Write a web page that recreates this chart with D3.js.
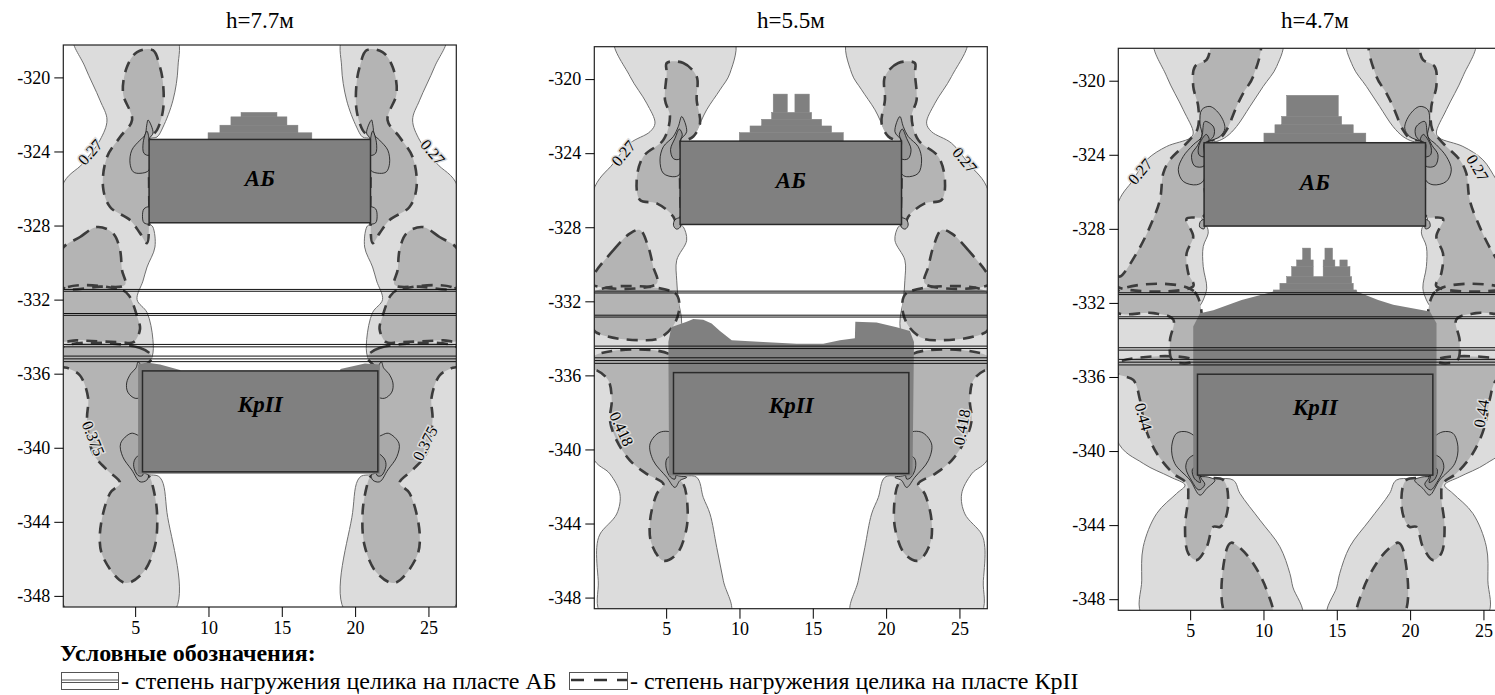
<!DOCTYPE html>
<html>
<head>
<meta charset="utf-8">
<script src="https://cdn.jsdelivr.net/npm/d3@7"></script>
<style>
body { margin: 0; background: #fff; }
svg { display: block; }
text { font-family: "Liberation Serif", "Times New Roman", serif; }
</style>
</head>
<body>
<svg id="chart" width="1495" height="695"></svg>
<script>
// ---- data (x = distance, y = depth) ----
const xTicks = [5, 10, 15, 20, 25];
const yTicks = [-320, -324, -328, -332, -336, -340, -344, -348];
const titles = ["h=7.7м", "h=5.5м", "h=4.7м"];
const xDomain = [0.1, 26.9];
const yDomain = [-318.25, -348.6];
const axisSum = 27; // left + right edge, shapes are given for the left half
const abRect = [5.95, 21.05, -323.35, -327.85];
const krRect = [5.5, 21.55, -335.85, -341.3];
const seamLines = [-331.45, -331.55, -332.75, -332.85, -334.42, -334.55, -335.05, -335.2, -335.35];

// panel 1, h=7.7
const light1 = [[0.83,-317.8],[1.58,-319.43],[2.6,-321.23],[3.08,-322.3],[2.6,-323.39],[1.45,-324.63],[0,-325.9],[0,-341.0],[0.5,-348.9],[7.6,-348.9],[7.17,-343.5],[6.69,-341.6],[5.5,-341.3],[5.5,-335.85],[6.15,-335.1],[6.21,-334.15],[5.81,-332.7],[5.13,-332.0],[5.53,-331.0],[5.81,-330.24],[6.35,-329.16],[6.21,-328.08],[5.95,-327.85],[5.95,-323.35],[6.49,-323.22],[6.9,-322.68],[7.58,-321.23],[7.92,-319.43],[7.75,-317.8]];
const mid1 = [
  [[5.13,-318.63],[6.21,-318.53],[6.69,-319.44],[6.9,-320.31],[6.9,-321.77],[6.49,-322.84],[5.95,-323.35],[5.95,-325.6],[5.95,-327.85],[5.81,-328.95],[5.33,-328.41],[4.65,-327.7],[3.29,-327.0],[2.81,-325.92],[3.08,-324.3],[3.97,-323.22],[4.79,-322.3],[4.17,-320.85],[4.44,-319.44]],
  [[0,-329.3],[1.24,-328.62],[2.4,-328.08],[3.49,-328.41],[3.97,-329.33],[4.1,-330.4],[4.31,-331.2],[2.6,-331.3],[0,-331.3]],
  [[0,-331.5],[4.17,-331.5],[4.6,-331.8],[5.13,-332.9],[5.33,-333.6],[4.88,-334.3],[4.0,-334.3],[1.0,-334.2],[0,-334.2]],
  [[0,-334.6],[5.3,-334.6],[6.15,-335.1],[5.5,-335.85],[5.5,-338.5],[5.5,-341.3],[6.0,-341.6],[6.21,-342.1],[6.49,-343.5],[6.35,-345.3],[5.53,-346.75],[4.31,-347.3],[2.81,-345.9],[2.6,-344.6],[3.29,-342.45],[3.97,-341.9],[3.08,-341.2],[2.13,-340.3],[1.72,-338.5],[1.79,-337.3],[1.24,-336.1],[0.42,-335.7],[0,-335.6]]
];
const lobes1 = [
  {lv: 1, pts: [[5.88,-322.3],[6.22,-323.0],[5.95,-323.35],[5.95,-325.0],[5.33,-325.18],[4.87,-325.1],[4.65,-324.64],[4.77,-323.93],[5.33,-323.39],[5.67,-323.12],[5.79,-322.58]]},
  {lv: 2, pts: [[5.8,-322.9],[5.95,-323.35],[5.95,-324.2],[5.6,-324.1],[5.55,-323.5]]},
  {lv: 1, pts: [[5.95,-327.0],[5.6,-327.1],[5.5,-327.5],[5.6,-327.85],[5.95,-327.9]]},
  {lv: 1, pts: [[5.21,-335.36],[5.5,-335.85],[5.5,-337.2],[5.0,-337.33],[4.5,-337.0],[4.42,-336.5],[4.7,-336.0],[5.05,-335.7]]},
  {lv: 1, pts: [[5.5,-339.5],[5.15,-339.31],[4.72,-339.22],[4.01,-339.76],[4.15,-340.48],[4.77,-341.2],[5.33,-341.84],[5.79,-341.75],[5.9,-341.47],[5.5,-341.3]]},
  {lv: 2, pts: [[5.5,-340.3],[5.0,-340.6],[4.9,-341.0],[5.2,-341.5],[5.5,-341.5]]}
];
const dark1 = [[5.2,-335.5],[5.8,-335.4],[6.7,-335.5],[8.06,-335.8],[8.1,-335.85],[18.96,-335.85],[19.0,-335.75],[20.67,-335.45],[21.69,-335.5],[21.69,-341.4],[5.2,-341.4]];
const bumps1 = [[12.22,14.67,-321.89,-322.13],[11.53,15.35,-322.13,-322.58],[10.78,16.1,-322.58,-322.99],[9.97,17.05,-322.99,-323.35]];
const labels1 = [["0.27",1.92,-324.03,-49],["0.27",25.3,-324.03,49],["0.375",2.15,-339.49,68],["0.375",24.76,-339.76,-63]];

// panel 2, h=5.5
const light2 = [[1.51,-317.8],[2.54,-319.86],[3.67,-321.3],[4.24,-322.38],[3.9,-322.84],[2.54,-323.46],[1.4,-324.55],[0,-326.1],[0,-340.42],[1.17,-341.32],[1.85,-342.4],[1.63,-343.48],[0.49,-344.57],[0.27,-345.29],[0.37,-347.09],[0.61,-348.9],[9.35,-348.9],[8.9,-347.09],[8.45,-345.29],[7.99,-343.48],[7.53,-342.59],[7.08,-341.5],[5.5,-341.3],[5.5,-335.85],[6.06,-333.2],[5.83,-331.94],[5.72,-330.86],[5.72,-329.78],[6.4,-328.7],[6.17,-327.98],[5.95,-327.85],[5.95,-323.35],[6.63,-323.19],[7.08,-322.74],[7.76,-321.66],[8.67,-320.58],[9.35,-319.68],[9.58,-317.8]];
const mid2 = [
  [[5.04,-319.13],[6.17,-319.13],[7.08,-319.86],[7.08,-321.12],[7.31,-322.38],[6.85,-323.1],[6.4,-323.28],[5.95,-323.35],[5.95,-325.6],[5.95,-327.85],[5.8,-328.1],[5.49,-327.43],[4.36,-326.71],[3.22,-326.53],[2.99,-325.45],[3.44,-324.19],[4.81,-323.28],[5.26,-322.02],[4.92,-321.12],[5.04,-319.68]],
  [[0,-330.68],[1.4,-329.24],[2.54,-328.33],[3.22,-328.15],[3.78,-329.06],[4.12,-330.14],[4.36,-331.04],[0,-331.1]],
  [[0,-331.55],[5.6,-331.55],[5.9,-332.3],[5.5,-333.3],[4.5,-334.0],[3.22,-334.1],[1.0,-333.9],[0,-333.5]],
  [[0,-335.0],[5.5,-335.0],[5.5,-338.0],[5.5,-341.3],[6.17,-341.86],[6.4,-342.59],[6.4,-344.21],[5.72,-345.65],[4.81,-346.01],[4.01,-345.11],[3.9,-343.85],[4.36,-342.4],[4.81,-341.86],[3.67,-341.32],[2.54,-340.6],[1.63,-339.52],[1.17,-338.44],[1.29,-337.35],[1.06,-336.27],[0.27,-335.73],[0,-335.7]]
];
const lobes2 = [
  {lv: 1, pts: [[6.06,-322.02],[6.4,-322.84],[5.95,-323.35],[5.95,-325.1],[5.6,-325.27],[4.81,-325.09],[4.58,-324.37],[4.81,-323.65],[5.49,-323.1],[5.83,-322.56]]},
  {lv: 2, pts: [[5.9,-322.7],[6.1,-323.0],[5.95,-323.35],[5.95,-324.3],[5.5,-324.3],[5.3,-323.8],[5.6,-323.2]]},
  {lv: 1, pts: [[5.95,-327.5],[5.6,-327.6],[5.5,-327.9],[5.7,-328.1],[5.95,-328.0]]},
  {lv: 1, pts: [[5.49,-339.16],[4.58,-339.07],[3.9,-339.7],[4.12,-340.6],[5.04,-341.5],[5.6,-342.05],[5.94,-341.68],[6.4,-341.5],[5.5,-341.3]]},
  {lv: 2, pts: [[5.5,-340.3],[5.05,-340.5],[5.0,-341.0],[5.3,-341.5],[5.6,-341.6]]}
];
const dark2 = [[5.38,-333.39],[6.4,-333.1],[6.85,-332.95],[7.53,-333.0],[8.1,-333.2],[8.67,-333.6],[9.47,-334.1],[11.62,-334.2],[13.9,-334.29],[15.71,-334.29],[16.85,-334.1],[17.87,-334.0],[17.9,-333.1],[19.35,-333.15],[20.72,-333.4],[21.62,-333.6],[21.9,-334.2],[21.8,-341.41],[5.2,-341.41],[5.15,-334.2],[5.3,-333.6]];
const bumps2 = [[12.3,13.26,-320.81,-321.8],[13.78,14.76,-320.81,-321.8],[12.19,14.92,-321.8,-322.17],[11.51,15.6,-322.17,-322.53],[10.72,16.28,-322.53,-322.89],[9.99,17.08,-322.89,-323.35]];
const labels2 = [["0.27",2.08,-324.0,-50],["0.27",25.37,-324.37,50],["0.418",1.97,-338.89,65],["0.418",25.15,-338.8,-80]];

// panel 3, h=4.7
const light3 = [[2.6,-317.8],[3.4,-319.77],[4.53,-321.57],[5.21,-322.83],[4.99,-323.1],[3.4,-323.55],[2.04,-324.27],[1.12,-325.35],[0,-326.8],[0,-339.4],[1.8,-340.67],[3.62,-341.39],[4.65,-341.84],[4.08,-342.29],[2.72,-343.37],[1.8,-345.17],[1.7,-346.97],[1.8,-348.9],[12.6,-348.9],[12.0,-347.34],[11.8,-346.61],[11.12,-345.17],[9.76,-343.73],[8.4,-342.29],[7.94,-341.57],[5.5,-341.3],[5.5,-335.85],[5.44,-332.56],[5.89,-331.84],[6.13,-331.2],[5.89,-330.04],[5.89,-328.96],[6.23,-328.23],[6.13,-327.88],[5.95,-327.85],[5.95,-323.35],[6.81,-323.28],[7.49,-323.01],[8.17,-322.47],[9.08,-321.39],[9.98,-320.31],[10.9,-319.23],[11.24,-317.8]];
const mid3 = [
  [[6.69,-317.8],[9.71,-317.8],[9.3,-319.77],[8.62,-320.67],[8.17,-321.39],[7.49,-322.65],[7.03,-323.1],[5.95,-323.35],[5.95,-325.3],[5.95,-327.3],[4.76,-327.45],[5.21,-328.42],[4.76,-329.31],[4.87,-330.39],[5.21,-331.1],[0,-331.1],[0,-330.5],[0.22,-330.58],[1.35,-329.31],[2.26,-327.88],[2.94,-326.43],[3.17,-324.99],[3.62,-324.27],[4.76,-323.37],[5.5,-322.6],[5.55,-321.39],[5.21,-320.31],[5.33,-319.23],[6.13,-318.86]],
  [[0,-331.4],[5.3,-331.4],[5.3,-335.1],[3.8,-335.1],[3.62,-334.05],[3.85,-332.9],[2.5,-332.55],[0,-332.5]],
  [[0,-335.26],[5.3,-335.1],[5.5,-335.85],[5.5,-338.5],[5.5,-341.3],[7.26,-341.57],[7.6,-342.65],[7.37,-343.73],[7.03,-344.1],[6.58,-344.09],[6.13,-345.17],[5.44,-345.89],[4.87,-345.53],[4.65,-344.09],[4.87,-342.47],[4.76,-341.75],[3.85,-341.21],[2.72,-340.12],[1.92,-338.68],[1.58,-337.24],[1.12,-336.16],[0,-335.8]],
  [[7.49,-348.9],[7.49,-345.3],[7.8,-344.95],[8.5,-345.3],[9.3,-346.07],[10.22,-347.51],[10.56,-348.9]]
];
const lobes3 = [
  {lv: 1, pts: [[5.79,-321.57],[6.35,-321.39],[7.03,-321.84],[7.37,-322.56],[7.03,-323.01],[6.23,-323.28],[5.95,-323.37],[5.95,-325.35],[5.44,-325.62],[4.53,-325.44],[4.19,-324.81],[4.53,-324.09],[5.21,-323.46],[5.79,-323.01],[5.67,-322.29]]},
  {lv: 2, pts: [[6.0,-322.2],[6.6,-322.5],[6.6,-323.0],[6.2,-323.3],[5.95,-323.4],[5.95,-324.6],[5.3,-324.6],[5.1,-324.0],[5.5,-323.5],[5.8,-323.0]]},
  {lv: 3, pts: [[6.1,-322.9],[6.3,-323.2],[5.95,-323.4],[5.95,-324.1],[5.6,-324.0],[5.6,-323.5]]},
  {lv: 1, pts: [[5.95,-327.5],[5.7,-327.6],[5.65,-327.9],[5.95,-328.0]]},
  {lv: 1, pts: [[5.5,-339.6],[5.33,-339.23],[4.76,-338.96],[4.08,-339.04],[3.74,-339.77],[3.95,-340.67],[4.99,-341.57],[5.67,-342.38],[6.13,-342.02],[6.69,-341.57],[6.2,-341.4],[5.5,-341.3]]},
  {lv: 2, pts: [[5.5,-340.2],[4.9,-340.4],[4.7,-340.9],[5.1,-341.6],[5.6,-342.1],[6.0,-341.8],[5.7,-341.4]]},
  {lv: 3, pts: [[5.5,-340.8],[5.15,-341.0],[5.3,-341.5],[5.7,-341.7],[5.6,-341.35]]}
];
const dark3 = [[10.67,-331.39],[16.35,-331.39],[17.82,-331.84],[18.85,-332.1],[21.35,-332.47],[21.8,-333.1],[21.8,-341.3],[5.21,-341.3],[5.21,-333.28],[5.67,-332.56],[6.58,-332.4],[8.51,-331.84]];
const bumps3 = [[11.58,15.1,-320.79,-321.93],[11.24,15.33,-321.93,-322.38],[10.78,16.12,-322.38,-322.83],[10.03,16.98,-322.83,-323.35],
  [12.67,13.21,-329.04,-329.68],[14.19,14.71,-329.04,-329.68],[12.26,13.39,-329.68,-330.04],[14.07,14.87,-329.68,-330.04],[15.21,15.71,-329.68,-330.04],
  [11.92,13.39,-330.04,-330.58],[14.07,15.9,-330.04,-330.58],[11.58,16.01,-330.58,-330.94],[11.12,16.12,-330.94,-331.3],[10.67,16.35,-331.3,-331.45]];
const labels3 = [["0.27",1.58,-324.9,-50],["0.27",24.6,-324.7,60],["0.44",1.82,-338.15,75],["0.44",24.85,-337.97,-80]];

const panels = [
  {light: light1, mid: mid1, lobes: lobes1, dark: dark1, bumps: bumps1, labels: labels1},
  {light: light2, mid: mid2, lobes: lobes2, dark: dark2, bumps: bumps2, labels: labels2},
  {light: light3, mid: mid3, lobes: lobes3, dark: dark3, bumps: bumps3, labels: labels3}
];
// ---------------------------------------------------------------
const panelPos = [[63.3, 45], [594.3, 46.7], [1118.3, 48.3]];
const W = 393, H = 562;
const lobeFill = {1: "#a9a9a9", 2: "#979797", 3: "#898989"};

const svg = d3.select('#chart');
const defs = svg.append('defs');

const x = d3.scaleLinear().domain(xDomain).range([0, W]);
const y = d3.scaleLinear().domain(yDomain).range([0, H]);

const smooth = d3.line().x(p => x(p[0])).y(p => y(p[1])).curve(d3.curveCatmullRomClosed.alpha(0.5));
const poly = d3.line().x(p => x(p[0])).y(p => y(p[1])).curve(d3.curveLinearClosed);
const mirror = pts => pts.map(p => [axisSum - p[0], p[1]]);
const both = pts => [pts, mirror(pts)];

function drawPanel(d, i) {
  const g = svg.append('g').attr('transform', `translate(${panelPos[i][0]},${panelPos[i][1]})`);

  defs.append('clipPath').attr('id', 'clip' + i)
    .append('rect').attr('width', W).attr('height', H);
  const plot = g.append('g').attr('clip-path', `url(#clip${i})`);

  plot.selectAll('.light').data(both(d.light)).join('path')
    .attr('d', smooth).attr('fill', '#dcdcdc').attr('stroke', '#6f6f6f').attr('stroke-width', 1);

  const mids = d.mid.flatMap(both);
  plot.selectAll('.midfill').data(mids).join('path')
    .attr('d', smooth).attr('fill', '#b4b4b4');
  plot.selectAll('.middash').data(mids).join('path')
    .attr('d', smooth).attr('fill', 'none').attr('stroke', '#3c3c3c')
    .attr('stroke-width', 2.6).attr('stroke-dasharray', '11,8');

  const lobes = d.lobes.flatMap(l => [l, {lv: l.lv, pts: mirror(l.pts)}]);
  plot.selectAll('.lobe').data(lobes).join('path')
    .attr('d', l => smooth(l.pts)).attr('fill', l => lobeFill[l.lv])
    .attr('stroke', '#111').attr('stroke-width', 0.8);

  plot.append('path').attr('d', poly(d.dark)).attr('fill', '#808080');
  plot.selectAll('.bump').data(d.bumps).join('rect')
    .attr('x', b => x(b[0])).attr('width', b => x(b[1]) - x(b[0]))
    .attr('y', b => y(b[2])).attr('height', b => y(b[3]) - y(b[2]))
    .attr('fill', '#808080').attr('stroke', '#808080').attr('stroke-width', 0.5);

  plot.selectAll('.seam').data(seamLines).join('line')
    .attr('x1', 0).attr('x2', W).attr('y1', v => y(v)).attr('y2', v => y(v))
    .attr('stroke', '#111').attr('stroke-width', 1);

  plot.selectAll('.block').data([abRect, krRect]).join('rect')
    .attr('x', r => x(r[0])).attr('width', r => x(r[1]) - x(r[0]))
    .attr('y', r => y(r[2])).attr('height', r => y(r[3]) - y(r[2]))
    .attr('fill', '#808080').attr('stroke', '#2a2a2a').attr('stroke-width', 1.5);

  plot.selectAll('.blocklbl').data([["АБ", abRect], ["КрII", krRect]]).join('text')
    .attr('x', b => x((b[1][0] + b[1][1]) / 2))
    .attr('y', (b, k) => k === 0 ? y(-325.45) : y(-337.62))
    .attr('dy', '0.35em').attr('text-anchor', 'middle')
    .attr('font-size', 23).attr('font-weight', 'bold').attr('font-style', 'italic')
    .text(b => b[0]);

  plot.selectAll('.clabel').data(d.labels).join('text')
    .attr('transform', l => `translate(${x(l[1])},${y(l[2])}) rotate(${l[3]})`)
    .attr('text-anchor', 'middle').attr('dy', '0.35em').attr('font-size', 16)
    .attr('stroke', '#dcdcdc').attr('stroke-width', 3).attr('paint-order', 'stroke')
    .text(l => l[0]);

  g.append('rect').attr('width', W).attr('height', H)
    .attr('fill', 'none').attr('stroke', '#222').attr('stroke-width', 1.2);

  g.append('g')
    .call(d3.axisLeft(y).tickValues(yTicks).tickSize(9).tickPadding(4).tickFormat(v => String(v)))
    .call(a => a.select('.domain').remove())
    .attr('font-size', 18).attr('font-family', '"Liberation Serif", serif');

  g.append('g').attr('transform', `translate(0,${H})`)
    .call(d3.axisBottom(x).tickValues(xTicks).tickSize(10).tickPadding(4))
    .call(a => a.select('.domain').remove())
    .attr('font-size', 18).attr('font-family', '"Liberation Serif", serif');

  svg.append('text').attr('x', panelPos[i][0] + W / 2).attr('y', 28)
    .attr('text-anchor', 'middle').attr('font-size', 23).text(titles[i]);
}

panels.forEach(drawPanel);

// legend
svg.append('text').attr('x', 60).attr('y', 661).attr('font-size', 24).attr('font-weight', 'bold')
  .text('Условные обозначения:');

svg.append('rect').attr('x', 61.5).attr('y', 672.5).attr('width', 57).attr('height', 17)
  .attr('fill', 'none').attr('stroke', '#555');
svg.selectAll('.leg1').data([680, 682.5]).join('line')
  .attr('x1', 61.5).attr('x2', 118.5).attr('y1', v => v).attr('y2', v => v)
  .attr('stroke', '#555').attr('stroke-width', 1);
svg.append('text').attr('x', 121).attr('y', 689).attr('font-size', 24)
  .text('- степень нагружения целика на пласте АБ');

svg.append('rect').attr('x', 569.5).attr('y', 672.5).attr('width', 58).attr('height', 17)
  .attr('fill', 'none').attr('stroke', '#555');
svg.append('line').attr('x1', 571).attr('x2', 627).attr('y1', 680).attr('y2', 680)
  .attr('stroke', '#333').attr('stroke-width', 2.6).attr('stroke-dasharray', '13,10');
svg.append('text').attr('x', 630).attr('y', 689).attr('font-size', 24)
  .text('- степень нагружения целика на пласте КрII');
</script>
</body>
</html>
